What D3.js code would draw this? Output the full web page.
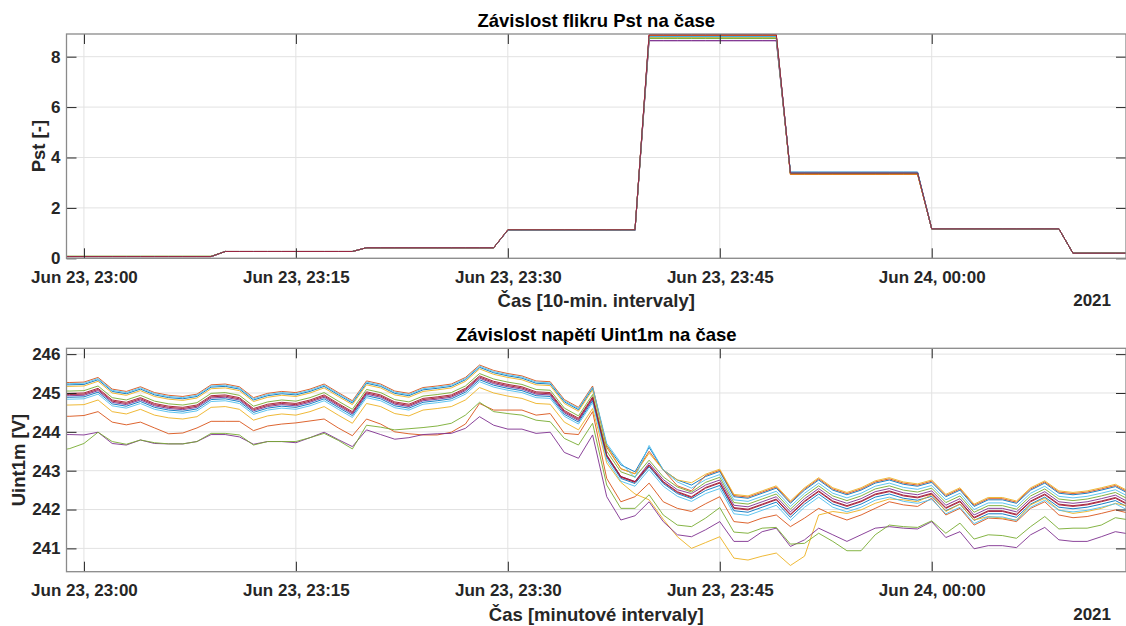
<!DOCTYPE html>
<html>
<head>
<meta charset="utf-8">
<style>
body { margin: 0; background: #fff; }
svg { display: block; font-family: "Liberation Sans", Arial, sans-serif; font-weight: bold; }
.tick text { fill: #262626; font-size: 17px; }
.tick line { stroke: #262626; }
.grid line { stroke: #e2e2e2; stroke-width: 1; }
.series { fill: none; stroke-width: 0.9; stroke-linejoin: round; }
</style>
</head>
<body>
<script src="https://cdnjs.cloudflare.com/ajax/libs/d3/7.8.5/d3.min.js"></script>
<script>
// MATLAB default colour order, repeated for 14 measured channels
var colors = ['#0072BD', '#D95319', '#EDB120', '#7E2F8E', '#77AC30', '#4DBEEE', '#A2142F'];

// minute timestamps 22:58 .. 00:14 (the first and last are just outside the view)
var minutes = d3.timeMinute.range(new Date(2021, 5, 23, 22, 58), new Date(2021, 5, 24, 0, 15));
var xTicks = [new Date(2021, 5, 23, 23, 0), new Date(2021, 5, 23, 23, 15), new Date(2021, 5, 23, 23, 30),
              new Date(2021, 5, 23, 23, 45), new Date(2021, 5, 24, 0, 0)];

// Pst, 10-minute intervals (start of each interval)
var pstStarts = ['23:00', '23:10', '23:20', '23:30', '23:40', '23:50', '00:00', '00:10'];
var P1  = [0.07, 0.27, 0.42, 1.11, 8.80, 3.42, 1.17, 0.20];
var P2  = [0.07, 0.27, 0.42, 1.12, 8.85, 3.34, 1.17, 0.20];
var P3  = [0.07, 0.27, 0.42, 1.12, 8.78, 3.33, 1.17, 0.20];
var P4  = [0.07, 0.27, 0.42, 1.11, 8.63, 3.40, 1.17, 0.20];
var P5  = [0.08, 0.27, 0.42, 1.12, 8.74, 3.38, 1.17, 0.20];
var P6  = [0.07, 0.27, 0.42, 1.12, 8.80, 3.40, 1.17, 0.20];
var P7  = [0.07, 0.27, 0.42, 1.13, 8.86, 3.38, 1.17, 0.20];
var P8  = [0.07, 0.27, 0.42, 1.11, 8.82, 3.41, 1.17, 0.20];
var P9  = [0.07, 0.27, 0.42, 1.12, 8.84, 3.33, 1.17, 0.20];
var P10 = [0.07, 0.27, 0.42, 1.12, 8.76, 3.35, 1.17, 0.20];
var P11 = [0.07, 0.27, 0.42, 1.11, 8.64, 3.39, 1.17, 0.20];
var P12 = [0.08, 0.27, 0.42, 1.12, 8.72, 3.37, 1.17, 0.20];
var P13 = [0.07, 0.27, 0.42, 1.12, 8.79, 3.39, 1.17, 0.20];
var P14 = [0.07, 0.27, 0.42, 1.13, 8.88, 3.38, 1.17, 0.20];

// Uint1m, one value per minute (22:58 .. 00:14)
var U1 = [245.21,245.21,245.22,245.34,245.04,244.98,245.10,244.95,244.88,244.85,244.91,245.15,245.17,245.10,244.82,244.93,244.98,244.95,245.04,245.17,244.95,244.74,245.25,245.17,244.99,244.93,245.08,245.12,245.17,245.34,245.66,245.52,245.44,245.38,245.25,245.23,244.77,244.57,245.12,243.65,243.15,242.97,243.60,243.02,242.76,242.63,242.85,242.98,242.33,242.29,242.42,242.55,242.16,242.50,242.76,242.50,242.38,242.50,242.68,242.76,242.65,242.60,242.70,242.33,242.50,242.08,242.25,242.25,242.16,242.50,242.68,242.42,242.38,242.42,242.50,242.59,242.40];
var U2 = [245.27,245.27,245.28,245.40,245.10,245.04,245.16,245.01,244.94,244.91,244.97,245.21,245.23,245.16,244.88,244.99,245.04,245.01,245.10,245.23,245.01,244.80,245.31,245.23,245.05,244.99,245.14,245.18,245.23,245.40,245.72,245.58,245.50,245.44,245.31,245.29,244.83,244.63,245.18,243.60,243.05,242.92,243.50,243.02,242.61,242.48,242.88,243.01,242.36,242.32,242.45,242.58,242.19,242.53,242.79,242.53,242.41,242.53,242.71,242.79,242.68,242.63,242.73,242.36,242.53,242.11,242.28,242.28,242.19,242.53,242.71,242.45,242.41,242.45,242.53,242.62,242.43];
var U3 = [245.17,245.17,245.18,245.30,245.00,244.94,245.06,244.91,244.84,244.81,244.87,245.11,245.13,245.06,244.78,244.89,244.94,244.91,245.00,245.13,244.91,244.70,245.21,245.13,244.95,244.89,245.04,245.08,245.13,245.30,245.62,245.48,245.40,245.34,245.21,245.19,244.73,244.53,245.08,243.65,243.05,242.92,243.45,243.02,242.76,242.69,242.91,243.04,242.39,242.35,242.48,242.61,242.22,242.56,242.82,242.56,242.44,242.56,242.74,242.82,242.71,242.66,242.76,242.39,242.56,242.14,242.31,242.31,242.22,242.56,242.74,242.48,242.44,242.48,242.56,242.65,242.46];
var U4 = [244.93,244.93,244.94,245.06,244.76,244.70,244.82,244.67,244.60,244.57,244.63,244.87,244.89,244.82,244.54,244.65,244.70,244.67,244.76,244.89,244.67,244.46,244.97,244.89,244.71,244.65,244.80,244.84,244.89,245.06,245.38,245.24,245.16,245.10,244.97,244.95,244.49,244.29,244.84,243.40,242.85,242.72,243.20,242.77,242.51,242.41,242.63,242.76,242.11,242.07,242.20,242.33,241.94,242.28,242.54,242.28,242.16,242.28,242.46,242.54,242.43,242.38,242.48,242.11,242.28,241.86,242.03,242.03,241.94,242.28,242.46,242.20,242.16,242.20,242.28,242.37,242.18];
var U5 = [245.05,245.05,245.06,245.18,244.88,244.82,244.94,244.79,244.72,244.69,244.75,244.99,245.01,244.94,244.66,244.77,244.82,244.79,244.88,245.01,244.79,244.58,245.09,245.01,244.83,244.77,244.92,244.96,245.01,245.18,245.50,245.36,245.28,245.22,245.09,245.07,244.61,244.41,244.96,243.50,242.97,242.84,243.27,242.84,242.58,242.45,242.70,242.83,242.18,242.14,242.27,242.40,242.01,242.35,242.61,242.35,242.23,242.35,242.53,242.61,242.50,242.45,242.55,242.18,242.35,241.93,242.10,242.10,242.01,242.35,242.53,242.27,242.23,242.27,242.35,242.44,242.25];
var U6 = [245.24,245.24,245.25,245.37,245.07,245.01,245.13,244.98,244.91,244.88,244.94,245.18,245.20,245.13,244.85,244.96,245.01,244.98,245.07,245.20,244.98,244.77,245.28,245.20,245.02,244.96,245.11,245.15,245.20,245.37,245.69,245.55,245.47,245.41,245.28,245.26,244.80,244.60,245.15,243.70,243.20,242.82,243.65,243.02,242.71,242.55,242.77,242.90,242.25,242.21,242.34,242.47,242.08,242.42,242.68,242.42,242.30,242.42,242.60,242.68,242.57,242.52,242.62,242.25,242.42,242.00,242.17,242.17,242.08,242.42,242.60,242.34,242.30,242.34,242.42,242.51,242.32];
var U7 = [244.99,244.99,245.00,245.12,244.82,244.76,244.88,244.73,244.66,244.63,244.69,244.93,244.95,244.88,244.60,244.71,244.76,244.73,244.82,244.95,244.73,244.52,245.03,244.95,244.77,244.71,244.86,244.90,244.95,245.12,245.44,245.30,245.22,245.16,245.03,245.01,244.55,244.35,244.90,243.40,242.85,242.72,243.15,242.72,242.46,242.33,242.57,242.70,242.05,242.01,242.14,242.27,241.88,242.22,242.48,242.22,242.10,242.22,242.40,242.48,242.37,242.32,242.42,242.05,242.22,241.80,241.97,241.97,241.88,242.22,242.40,242.14,242.10,242.14,242.22,242.31,242.12];
var U8 = [244.89,244.89,244.90,245.02,244.72,244.66,244.78,244.63,244.56,244.53,244.59,244.83,244.85,244.78,244.50,244.61,244.66,244.63,244.72,244.85,244.63,244.42,244.93,244.85,244.67,244.61,244.76,244.80,244.85,245.02,245.34,245.20,245.12,245.06,244.93,244.91,244.45,244.25,244.80,243.35,242.80,242.67,243.10,242.67,242.41,242.28,242.49,242.62,241.97,241.93,242.06,242.19,241.80,242.14,242.40,242.14,242.02,242.14,242.32,242.40,242.29,242.24,242.34,241.97,242.14,241.72,241.89,241.89,241.80,242.14,242.32,242.06,242.02,242.06,242.14,242.23,242.04];
var U9 = [244.40,244.40,244.42,244.52,244.25,244.18,244.25,244.10,243.95,243.97,244.10,244.27,244.27,244.27,244.03,244.15,244.20,244.23,244.28,244.33,244.10,243.90,244.33,244.20,244.00,243.95,243.92,243.92,243.99,244.20,244.73,244.56,244.56,244.56,244.43,244.47,243.96,243.93,244.52,242.80,242.20,242.33,242.68,242.20,242.03,241.95,242.15,242.33,241.69,241.65,241.78,241.86,241.56,241.78,242.03,241.86,241.73,241.86,242.03,242.20,242.12,242.08,242.29,241.86,242.03,241.60,241.78,241.76,241.69,242.03,242.20,241.86,241.79,241.82,241.90,241.99,241.90];
var U10 = [244.69,244.69,244.70,244.82,244.52,244.46,244.58,244.43,244.36,244.33,244.39,244.63,244.65,244.58,244.30,244.41,244.46,244.43,244.52,244.65,244.43,244.22,244.73,244.65,244.47,244.41,244.56,244.60,244.65,244.82,245.14,245.00,244.92,244.86,244.73,244.71,244.25,244.05,244.60,243.20,242.70,242.40,242.25,241.75,241.30,241.00,241.15,241.30,240.75,240.70,240.80,240.88,240.56,240.80,241.86,241.95,241.90,241.99,242.16,242.27,242.25,242.20,242.38,241.95,242.14,241.73,241.82,241.78,241.73,242.12,242.29,241.99,241.90,241.95,242.03,242.16,242.08];
var U11 = [243.93,243.93,243.92,243.99,243.70,243.66,243.79,243.70,243.69,243.69,243.75,243.93,243.93,243.87,243.68,243.75,243.75,243.72,243.85,243.99,243.80,243.62,244.05,243.93,243.81,243.85,243.93,243.95,243.96,244.09,244.39,244.17,244.07,244.07,243.96,243.99,243.47,243.32,243.92,242.33,241.73,241.84,242.20,241.69,241.35,241.30,241.48,241.69,241.18,241.18,241.43,241.52,241.05,241.22,241.52,241.35,241.18,241.35,241.52,241.56,241.52,241.50,241.69,241.28,241.43,240.99,241.07,241.07,241.02,241.35,241.54,241.22,241.18,241.18,241.30,241.43,241.37];
var U12 = [243.50,243.57,243.70,243.99,243.75,243.68,243.79,243.72,243.69,243.69,243.75,243.96,243.96,243.92,243.66,243.75,243.75,243.75,243.85,243.96,243.78,243.56,244.17,244.12,244.05,244.08,244.11,244.15,244.22,244.43,244.76,244.52,244.47,244.43,244.30,244.26,243.83,243.66,244.22,242.63,242.03,242.03,242.38,241.86,241.60,241.56,241.78,242.05,241.42,241.39,241.52,241.54,241.11,241.13,241.39,241.18,240.94,240.94,241.35,241.60,241.56,241.54,241.71,241.39,241.65,241.24,241.35,241.33,241.26,241.56,241.82,241.50,241.52,241.52,241.60,241.79,241.73];
var U13 = [244.84,244.84,244.85,244.97,244.67,244.61,244.73,244.58,244.51,244.48,244.54,244.78,244.80,244.73,244.45,244.56,244.61,244.58,244.67,244.80,244.58,244.37,244.88,244.80,244.62,244.56,244.71,244.75,244.80,244.97,245.29,245.15,245.07,245.01,244.88,244.86,244.40,244.20,244.75,243.28,242.73,242.60,243.03,242.60,242.34,242.21,242.41,242.54,241.89,241.85,241.98,242.11,241.72,242.06,242.32,242.06,241.94,242.06,242.24,242.32,242.21,242.16,242.26,241.89,242.06,241.64,241.81,241.81,241.72,242.06,242.24,241.98,241.94,241.98,242.06,242.15,241.96];
var U14 = [244.96,244.96,244.97,245.09,244.79,244.73,244.85,244.70,244.63,244.60,244.66,244.90,244.92,244.85,244.57,244.68,244.73,244.70,244.79,244.92,244.70,244.49,245.00,244.92,244.74,244.68,244.83,244.87,244.92,245.09,245.41,245.27,245.19,245.13,245.00,244.98,244.52,244.32,244.87,243.38,242.83,242.70,243.13,242.70,242.44,242.31,242.55,242.68,242.03,241.99,242.12,242.25,241.86,242.20,242.46,242.20,242.08,242.20,242.38,242.46,242.35,242.30,242.40,242.03,242.20,241.78,241.95,241.95,241.86,242.20,242.38,242.12,242.08,242.12,242.20,242.29,242.10];

var pstSeries = [P1, P2, P3, P4, P5, P6, P7, P8, P9, P10, P11, P12, P13, P14];
var uSeries = [U1, U2, U3, U4, U5, U6, U7, U8, U9, U10, U11, U12, U13, U14];

var W = 1126, H = 626;
var left = 66.5, right = 1126;

var svg = d3.select('body').append('svg')
    .attr('width', W)
    .attr('height', H);

var x = d3.scaleTime()
    .domain([new Date(2021, 5, 23, 22, 58, 46), new Date(2021, 5, 24, 0, 13, 45)])
    .range([left, right]);

// turn the 10-min Pst values into a held value for every minute
var parseHM = function(s) {
  var p = s.split(':');
  var h = +p[0], d = h < 12 ? 24 : 23;
  return new Date(2021, 5, d, h, +p[1]);
};
var pstStartDates = pstStarts.map(parseHM);
function pstPoints(levels) {
  return minutes.map(function(t) {
    var i = Math.max(0, d3.bisectRight(pstStartDates, t) - 1);
    return [t, levels[i]];
  });
}
function uPoints(values) {
  return values.map(function(v, i) { return [minutes[i], v]; });
}

function drawPanel(opt) {
  var y = d3.scaleLinear().domain(opt.yDomain).range([opt.bottom, opt.top]);
  var g = svg.append('g');

  // grid
  var grid = g.append('g').attr('class', 'grid');
  grid.selectAll('.gx').data(xTicks).enter().append('line')
      .attr('x1', function(d) { return x(d); }).attr('x2', function(d) { return x(d); })
      .attr('y1', opt.top).attr('y2', opt.bottom);
  grid.selectAll('.gy').data(opt.yTicks).enter().append('line')
      .attr('x1', left).attr('x2', right)
      .attr('y1', function(d) { return y(d); }).attr('y2', function(d) { return y(d); });

  // clipped lines
  g.append('clipPath').attr('id', opt.clip)
    .append('rect')
      .attr('x', left).attr('y', opt.top)
      .attr('width', right - left).attr('height', opt.bottom - opt.top);

  var line = d3.line()
      .x(function(d) { return x(d[0]); })
      .y(function(d) { return y(d[1]); });

  g.append('g').attr('clip-path', 'url(#' + opt.clip + ')')
    .selectAll('path').data(opt.series).enter().append('path')
      .attr('class', 'series')
      .attr('stroke', function(d, i) { return colors[i % colors.length]; })
      .attr('d', line);

  // axes with inward ticks on all four sides
  var fmt = d3.timeFormat('%b %d, %H:%M');
  var ax = g.append('g').attr('transform', 'translate(0,' + opt.bottom + ')')
      .call(d3.axisBottom(x).tickValues(xTicks).tickFormat(fmt).tickSize(-10).tickPadding(12.3));
  var axT = g.append('g').attr('transform', 'translate(0,' + opt.top + ')')
      .call(d3.axisTop(x).tickValues(xTicks).tickFormat('').tickSize(-10));
  var ay = g.append('g').attr('transform', 'translate(' + left + ',0)')
      .call(d3.axisLeft(y).tickValues(opt.yTicks).tickFormat(d3.format('~g')).tickSize(-10).tickPadding(6));
  var ayR = g.append('g').attr('transform', 'translate(' + right + ',0)')
      .call(d3.axisRight(y).tickValues(opt.yTicks).tickFormat('').tickSize(-10));
  [ax, axT, ay, ayR].forEach(function(a) {
    a.select('.domain').remove();
    a.attr('font-family', null).attr('font-size', null);
  });

  // box
  g.append('rect')
      .attr('x', left).attr('y', opt.top)
      .attr('width', right - left).attr('height', opt.bottom - opt.top)
      .attr('fill', 'none').attr('stroke', '#8a8a8a').attr('stroke-width', 1.3);

  // texts
  g.append('text')
      .attr('x', (left + right) / 2).attr('y', opt.top - 7)
      .attr('text-anchor', 'middle').attr('font-size', 18.5).attr('fill', '#000')
      .text(opt.title);
  g.append('text')
      .attr('x', (left + right) / 2).attr('y', opt.bottom + 49)
      .attr('text-anchor', 'middle').attr('font-size', 18.5).attr('fill', '#262626')
      .text(opt.xLabel);
  g.append('text')
      .attr('x', 1111).attr('y', opt.bottom + 48)
      .attr('text-anchor', 'end').attr('font-size', 17).attr('fill', '#262626')
      .text('2021');
  g.append('text')
      .attr('transform', 'translate(' + opt.yLabelX + ',' + (opt.top + opt.bottom) / 2 + ') rotate(-90)')
      .attr('text-anchor', 'middle').attr('font-size', 18.5).attr('fill', '#262626')
      .text(opt.yLabel);
}

drawPanel({
  top: 34, bottom: 258.3,
  yDomain: [0, 8.9], yTicks: [0, 2, 4, 6, 8],
  series: pstSeries.map(pstPoints),
  clip: 'clipTop',
  title: 'Závislost flikru Pst na čase',
  xLabel: 'Čas [10-min. intervaly]',
  yLabel: 'Pst [-]', yLabelX: 45
});

drawPanel({
  top: 348.3, bottom: 571.7,
  yDomain: [240.4, 246.15], yTicks: [241, 242, 243, 244, 245, 246],
  series: uSeries.map(uPoints),
  clip: 'clipBottom',
  title: 'Závislost napětí Uint1m na čase',
  xLabel: 'Čas [minutové intervaly]',
  yLabel: 'Uint1m [V]', yLabelX: 25
});
</script>
</body>
</html>
